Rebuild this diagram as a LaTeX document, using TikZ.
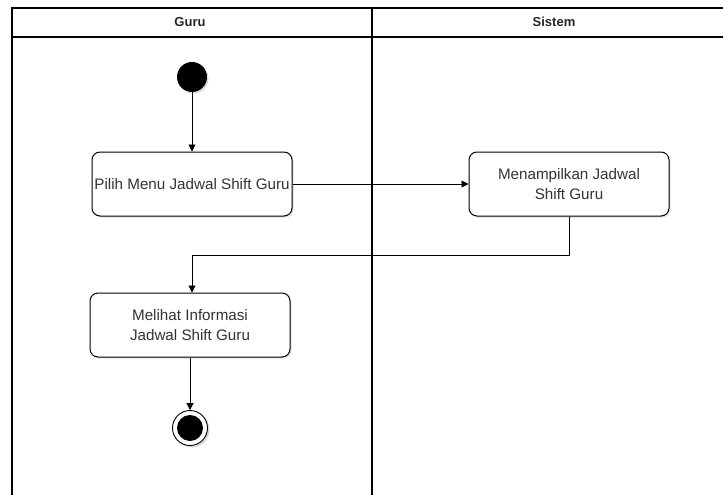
\documentclass[tikz,border=0pt]{standalone}
\usepackage{fontspec}
\setmainfont{Liberation Sans}
\usetikzlibrary{arrows.meta, shadows, calc}

\tikzset{
    action/.style={draw, line width=1pt, rounded corners=8pt, minimum width=200pt, minimum height=64pt,
        align=center, fill=white, text=black!80, inner xsep=1pt, font=\fontsize{15.2}{20}\selectfont,
        drop shadow={shadow xshift=1.5pt, shadow yshift=-1.5pt, fill=black!25, opacity=0.5}},
    flow/.style={-{Triangle[length=7pt, width=7pt]}, line width=0.9pt},
    lane/.style={line width=1.3pt},
    lanehead/.style={font=\fontsize{13}{15}\bfseries\selectfont, text=black!85},
}

\begin{document}
\begin{tikzpicture}[x=1pt, y=-1pt]
    \useasboundingbox (0,0) rectangle (723,495);
    \def\laneTop{8}
    \def\headBot{37}
    \def\laneMid{372}

    % Draw the swimlanes
    \draw[lane] (12,500) -- (12,\laneTop) -- (730,\laneTop);
    \draw[lane] (12,\headBot) -- (730,\headBot);
    \draw[lane] (\laneMid,\laneTop) -- (\laneMid,500);
    \node[lanehead] (guru) at (190,22) {Guru};
    \node[lanehead] (sistem) at (554,22) {Sistem};

    % Start and end
    \fill[black!30, opacity=0.5] (193.5,78.5) circle (15pt);
    \node[circle, fill=black, minimum size=30pt, inner sep=0pt] (start) at (192,77) {};
    \fill[black!30, opacity=0.5] (191.5,429.5) circle (18pt);
    \node[circle, draw, fill=white, line width=0.9pt, minimum size=35pt, inner sep=0pt] (stop) at (190,428) {};
    \fill (stop) circle (13pt);

    % Actions
    \node[action] (pilih) at (192,184) {Pilih Menu Jadwal Shift Guru};
    \node[action] (tampil) at (569,184) {Menampilkan Jadwal\\Shift Guru};
    \node[action] (lihat) at (190,325) {Melihat Informasi\\Jadwal Shift Guru};

    % Flows
    \draw[flow] (start) -- (pilih);
    \draw[flow] (pilih) -- (tampil);
    \draw[flow] (tampil.south) |- (192,255) -- (lihat.north -| 192,0);
    \draw[flow] (lihat) -- (stop);
\end{tikzpicture}
\end{document}
